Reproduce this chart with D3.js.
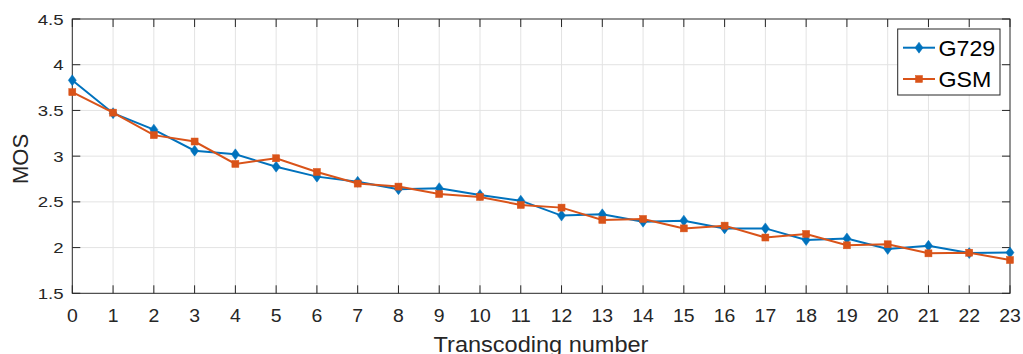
<!DOCTYPE html>
<html>
<head>
<meta charset="utf-8">
<script src="https://cdn.jsdelivr.net/npm/d3@7"></script>
<style>
  html, body { margin: 0; padding: 0; background: #fff; }
  svg { display: block; font-family: "Liberation Sans", Arial, sans-serif; }
</style>
</head>
<body>
<div id="chart"></div>
<script>
// data
const transcodings = d3.range(0, 24);
const g729 = [3.83, 3.47, 3.29, 3.06, 3.02, 2.885, 2.776, 2.72, 2.638, 2.65, 2.575, 2.513,
  2.35, 2.364, 2.283, 2.294, 2.21, 2.21, 2.083, 2.10, 1.985, 2.02, 1.94, 1.945];
const gsm = [3.70, 3.476, 3.23, 3.16, 2.915, 2.977, 2.827, 2.70, 2.667, 2.586, 2.554, 2.466,
  2.437, 2.302, 2.313, 2.21, 2.24, 2.11, 2.149, 2.025, 2.036, 1.937, 1.944, 1.864];
const yTicks = [1.5, 2, 2.5, 3, 3.5, 4, 4.5];
const series = [
  { name: 'G729', values: g729, color: '#0072BD', marker: 'diamond' },
  { name: 'GSM', values: gsm, color: '#D95319', marker: 'square' }
];

const width = 1023, height = 354;
const plotL = 72.3, plotR = 1010, plotT = 19, plotB = 293.3;
const axisColor = '#262626';
const tickLen = 8;

const svg = d3.select('#chart').append('svg')
  .attr('width', width).attr('height', height);

const x = d3.scaleLinear().domain([0, 23]).range([plotL, plotR]);
const y = d3.scaleLinear().domain([1.5, 4.5]).range([plotB, plotT]);

// grid
svg.append('g').selectAll('line').data(transcodings.slice(1, -1)).enter().append('line')
  .attr('x1', d => x(d)).attr('x2', d => x(d)).attr('y1', plotT).attr('y2', plotB)
  .attr('stroke', '#e3e3e3').attr('stroke-width', 1);
svg.append('g').selectAll('line').data(yTicks.slice(1, -1)).enter().append('line')
  .attr('x1', plotL).attr('x2', plotR).attr('y1', d => y(d)).attr('y2', d => y(d))
  .attr('stroke', '#e3e3e3').attr('stroke-width', 1);

// ticks pointing inward on all four sides
const ticks = svg.append('g').attr('stroke', axisColor).attr('stroke-width', 1);
transcodings.forEach(t => {
  ticks.append('line').attr('x1', x(t)).attr('x2', x(t)).attr('y1', plotB).attr('y2', plotB - tickLen);
  ticks.append('line').attr('x1', x(t)).attr('x2', x(t)).attr('y1', plotT).attr('y2', plotT + tickLen);
});
yTicks.forEach(v => {
  ticks.append('line').attr('x1', plotL).attr('x2', plotL + tickLen).attr('y1', y(v)).attr('y2', y(v));
  ticks.append('line').attr('x1', plotR).attr('x2', plotR - tickLen).attr('y1', y(v)).attr('y2', y(v));
});

// box
svg.append('rect')
  .attr('x', plotL).attr('y', plotT).attr('width', plotR - plotL).attr('height', plotB - plotT)
  .attr('fill', 'none').attr('stroke', axisColor).attr('stroke-width', 1);

// tick labels
svg.append('g').selectAll('text').data(transcodings).enter().append('text')
  .attr('transform', d => `translate(${x(d)},${321.5}) scale(1.05,1)`)
  .attr('text-anchor', 'middle').attr('font-size', 18.5).attr('fill', axisColor)
  .text(d => d);
svg.append('g').selectAll('text').data(yTicks).enter().append('text')
  .attr('transform', d => `translate(63.5,${y(d) + 5.5}) scale(1.2,1)`)
  .attr('text-anchor', 'end').attr('font-size', 15.5).attr('fill', axisColor)
  .text(d => d);

// axis titles
svg.append('text')
  .attr('transform', `translate(541,352) scale(1.07,1)`)
  .attr('text-anchor', 'middle').attr('font-size', 22).attr('fill', axisColor)
  .text('Transcoding number');
svg.append('text')
  .attr('transform', `translate(28,159) rotate(-90)`)
  .attr('text-anchor', 'middle').attr('font-size', 22).attr('fill', axisColor)
  .text('MOS');

function drawMarker(g, kind, cx, cy, color) {
  if (kind === 'diamond') {
    g.append('path')
      .attr('d', `M${cx},${cy - 5.5}L${cx + 4},${cy}L${cx},${cy + 5.5}L${cx - 4},${cy}Z`)
      .attr('fill', color).attr('stroke', color).attr('stroke-width', 0.5);
  } else {
    g.append('rect')
      .attr('x', cx - 3.5).attr('y', cy - 3.5).attr('width', 7).attr('height', 7)
      .attr('fill', color).attr('stroke', color).attr('stroke-width', 0.5);
  }
}

const line = d3.line().x((d, i) => x(transcodings[i])).y(d => y(d));
series.forEach(s => {
  const g = svg.append('g');
  g.append('path').datum(s.values)
    .attr('d', line).attr('fill', 'none')
    .attr('stroke', s.color).attr('stroke-width', 2);
  s.values.forEach((v, i) => drawMarker(g, s.marker, x(transcodings[i]), y(v), s.color));
});

// legend
const legend = svg.append('g');
legend.append('rect')
  .attr('x', 897.7).attr('y', 29).attr('width', 102.3).attr('height', 66)
  .attr('fill', '#fff').attr('stroke', axisColor).attr('stroke-width', 1);
series.forEach((s, i) => {
  const ly = 47.7 + i * 31.3;
  legend.append('line').attr('x1', 903).attr('x2', 935).attr('y1', ly).attr('y2', ly)
    .attr('stroke', s.color).attr('stroke-width', 2);
  drawMarker(legend, s.marker, 919, ly, s.color);
  legend.append('text')
    .attr('transform', `translate(938.5,${ly + 7.8}) scale(1.08,1)`)
    .attr('font-size', 21.5).attr('fill', '#000')
    .text(s.name);
});
</script>
</body>
</html>
